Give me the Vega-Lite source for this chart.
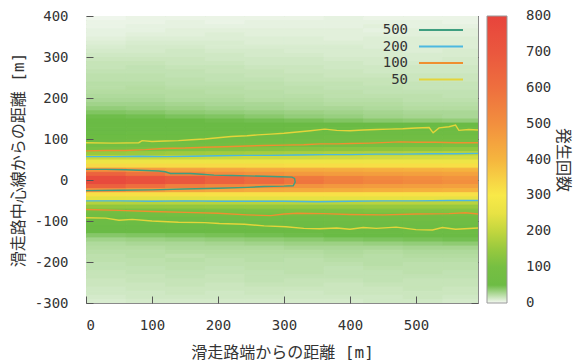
{
"$schema":"https://vega.github.io/schema/vega-lite/v6.json",
"width":392,"height":287,
"autosize":"none",
"padding":{"left":86,"top":16,"right":97,"bottom":57},
"background":"white",
"datasets":{
"grid":[
{"x":30,"y":395,"v":1},{"x":90,"y":395,"v":2},{"x":150,"y":395,"v":2},{"x":210,"y":395,"v":2},{"x":270,"y":395,"v":2},{"x":330,"y":395,"v":2},{"x":390,"y":395,"v":3},{"x":450,"y":395,"v":2},{"x":510,"y":395,"v":2},{"x":570,"y":395,"v":2},
{"x":30,"y":385,"v":2},{"x":90,"y":385,"v":2},{"x":150,"y":385,"v":3},{"x":210,"y":385,"v":2},{"x":270,"y":385,"v":3},{"x":330,"y":385,"v":3},{"x":390,"y":385,"v":3},{"x":450,"y":385,"v":3},{"x":510,"y":385,"v":3},{"x":570,"y":385,"v":2},
{"x":30,"y":375,"v":2},{"x":90,"y":375,"v":3},{"x":150,"y":375,"v":3},{"x":210,"y":375,"v":3},{"x":270,"y":375,"v":3},{"x":330,"y":375,"v":3},{"x":390,"y":375,"v":3},{"x":450,"y":375,"v":4},{"x":510,"y":375,"v":3},{"x":570,"y":375,"v":3},
{"x":30,"y":365,"v":3},{"x":90,"y":365,"v":3},{"x":150,"y":365,"v":4},{"x":210,"y":365,"v":4},{"x":270,"y":365,"v":4},{"x":330,"y":365,"v":4},{"x":390,"y":365,"v":4},{"x":450,"y":365,"v":3},{"x":510,"y":365,"v":4},{"x":570,"y":365,"v":4},
{"x":30,"y":355,"v":3},{"x":90,"y":355,"v":4},{"x":150,"y":355,"v":4},{"x":210,"y":355,"v":5},{"x":270,"y":355,"v":4},{"x":330,"y":355,"v":4},{"x":390,"y":355,"v":4},{"x":450,"y":355,"v":4},{"x":510,"y":355,"v":4},{"x":570,"y":355,"v":4},
{"x":30,"y":345,"v":4},{"x":90,"y":345,"v":5},{"x":150,"y":345,"v":5},{"x":210,"y":345,"v":5},{"x":270,"y":345,"v":5},{"x":330,"y":345,"v":5},{"x":390,"y":345,"v":4},{"x":450,"y":345,"v":5},{"x":510,"y":345,"v":5},{"x":570,"y":345,"v":5},
{"x":30,"y":335,"v":5},{"x":90,"y":335,"v":6},{"x":150,"y":335,"v":6},{"x":210,"y":335,"v":6},{"x":270,"y":335,"v":5},{"x":330,"y":335,"v":5},{"x":390,"y":335,"v":5},{"x":450,"y":335,"v":5},{"x":510,"y":335,"v":5},{"x":570,"y":335,"v":5},
{"x":30,"y":325,"v":6},{"x":90,"y":325,"v":7},{"x":150,"y":325,"v":7},{"x":210,"y":325,"v":6},{"x":270,"y":325,"v":6},{"x":330,"y":325,"v":6},{"x":390,"y":325,"v":6},{"x":450,"y":325,"v":5},{"x":510,"y":325,"v":5},{"x":570,"y":325,"v":5},
{"x":30,"y":315,"v":7},{"x":90,"y":315,"v":7},{"x":150,"y":315,"v":8},{"x":210,"y":315,"v":7},{"x":270,"y":315,"v":7},{"x":330,"y":315,"v":6},{"x":390,"y":315,"v":6},{"x":450,"y":315,"v":6},{"x":510,"y":315,"v":5},{"x":570,"y":315,"v":6},
{"x":30,"y":305,"v":8},{"x":90,"y":305,"v":8},{"x":150,"y":305,"v":8},{"x":210,"y":305,"v":8},{"x":270,"y":305,"v":7},{"x":330,"y":305,"v":7},{"x":390,"y":305,"v":6},{"x":450,"y":305,"v":6},{"x":510,"y":305,"v":6},{"x":570,"y":305,"v":6},
{"x":30,"y":295,"v":9},{"x":90,"y":295,"v":9},{"x":150,"y":295,"v":9},{"x":210,"y":295,"v":8},{"x":270,"y":295,"v":8},{"x":330,"y":295,"v":8},{"x":390,"y":295,"v":7},{"x":450,"y":295,"v":7},{"x":510,"y":295,"v":6},{"x":570,"y":295,"v":7},
{"x":30,"y":285,"v":10},{"x":90,"y":285,"v":10},{"x":150,"y":285,"v":9},{"x":210,"y":285,"v":9},{"x":270,"y":285,"v":8},{"x":330,"y":285,"v":8},{"x":390,"y":285,"v":8},{"x":450,"y":285,"v":7},{"x":510,"y":285,"v":7},{"x":570,"y":285,"v":7},
{"x":30,"y":275,"v":10},{"x":90,"y":275,"v":11},{"x":150,"y":275,"v":10},{"x":210,"y":275,"v":10},{"x":270,"y":275,"v":9},{"x":330,"y":275,"v":9},{"x":390,"y":275,"v":8},{"x":450,"y":275,"v":8},{"x":510,"y":275,"v":8},{"x":570,"y":275,"v":8},
{"x":30,"y":265,"v":11},{"x":90,"y":265,"v":11},{"x":150,"y":265,"v":11},{"x":210,"y":265,"v":10},{"x":270,"y":265,"v":10},{"x":330,"y":265,"v":9},{"x":390,"y":265,"v":9},{"x":450,"y":265,"v":8},{"x":510,"y":265,"v":8},{"x":570,"y":265,"v":8},
{"x":30,"y":255,"v":12},{"x":90,"y":255,"v":12},{"x":150,"y":255,"v":11},{"x":210,"y":255,"v":11},{"x":270,"y":255,"v":10},{"x":330,"y":255,"v":10},{"x":390,"y":255,"v":9},{"x":450,"y":255,"v":9},{"x":510,"y":255,"v":9},{"x":570,"y":255,"v":9},
{"x":30,"y":245,"v":12},{"x":90,"y":245,"v":12},{"x":150,"y":245,"v":12},{"x":210,"y":245,"v":11},{"x":270,"y":245,"v":11},{"x":330,"y":245,"v":10},{"x":390,"y":245,"v":10},{"x":450,"y":245,"v":10},{"x":510,"y":245,"v":9},{"x":570,"y":245,"v":9},
{"x":30,"y":235,"v":13},{"x":90,"y":235,"v":13},{"x":150,"y":235,"v":12},{"x":210,"y":235,"v":12},{"x":270,"y":235,"v":12},{"x":330,"y":235,"v":11},{"x":390,"y":235,"v":11},{"x":450,"y":235,"v":10},{"x":510,"y":235,"v":10},{"x":570,"y":235,"v":10},
{"x":30,"y":225,"v":13},{"x":90,"y":225,"v":14},{"x":150,"y":225,"v":13},{"x":210,"y":225,"v":13},{"x":270,"y":225,"v":12},{"x":330,"y":225,"v":12},{"x":390,"y":225,"v":11},{"x":450,"y":225,"v":11},{"x":510,"y":225,"v":10},{"x":570,"y":225,"v":10},
{"x":30,"y":215,"v":14},{"x":90,"y":215,"v":14},{"x":150,"y":215,"v":14},{"x":210,"y":215,"v":13},{"x":270,"y":215,"v":13},{"x":330,"y":215,"v":12},{"x":390,"y":215,"v":12},{"x":450,"y":215,"v":11},{"x":510,"y":215,"v":11},{"x":570,"y":215,"v":11},
{"x":30,"y":205,"v":15},{"x":90,"y":205,"v":15},{"x":150,"y":205,"v":14},{"x":210,"y":205,"v":14},{"x":270,"y":205,"v":13},{"x":330,"y":205,"v":13},{"x":390,"y":205,"v":12},{"x":450,"y":205,"v":12},{"x":510,"y":205,"v":12},{"x":570,"y":205,"v":11},
{"x":30,"y":195,"v":16},{"x":90,"y":195,"v":16},{"x":150,"y":195,"v":15},{"x":210,"y":195,"v":15},{"x":270,"y":195,"v":14},{"x":330,"y":195,"v":14},{"x":390,"y":195,"v":13},{"x":450,"y":195,"v":13},{"x":510,"y":195,"v":12},{"x":570,"y":195,"v":12},
{"x":30,"y":185,"v":18},{"x":90,"y":185,"v":18},{"x":150,"y":185,"v":17},{"x":210,"y":185,"v":16},{"x":270,"y":185,"v":16},{"x":330,"y":185,"v":15},{"x":390,"y":185,"v":14},{"x":450,"y":185,"v":14},{"x":510,"y":185,"v":13},{"x":570,"y":185,"v":13},
{"x":30,"y":175,"v":21},{"x":90,"y":175,"v":20},{"x":150,"y":175,"v":19},{"x":210,"y":175,"v":18},{"x":270,"y":175,"v":17},{"x":330,"y":175,"v":16},{"x":390,"y":175,"v":16},{"x":450,"y":175,"v":15},{"x":510,"y":175,"v":14},{"x":570,"y":175,"v":14},
{"x":30,"y":165,"v":25},{"x":90,"y":165,"v":24},{"x":150,"y":165,"v":22},{"x":210,"y":165,"v":21},{"x":270,"y":165,"v":20},{"x":330,"y":165,"v":19},{"x":390,"y":165,"v":18},{"x":450,"y":165,"v":17},{"x":510,"y":165,"v":16},{"x":570,"y":165,"v":16},
{"x":30,"y":155,"v":29},{"x":90,"y":155,"v":28},{"x":150,"y":155,"v":26},{"x":210,"y":155,"v":25},{"x":270,"y":155,"v":23},{"x":330,"y":155,"v":21},{"x":390,"y":155,"v":20},{"x":450,"y":155,"v":18},{"x":510,"y":155,"v":17},{"x":570,"y":155,"v":16},
{"x":30,"y":145,"v":31},{"x":90,"y":145,"v":31},{"x":150,"y":145,"v":30},{"x":210,"y":145,"v":29},{"x":270,"y":145,"v":28},{"x":330,"y":145,"v":27},{"x":390,"y":145,"v":25},{"x":450,"y":145,"v":23},{"x":510,"y":145,"v":22},{"x":570,"y":145,"v":21},
{"x":30,"y":135,"v":32},{"x":90,"y":135,"v":32},{"x":150,"y":135,"v":32},{"x":210,"y":135,"v":32},{"x":270,"y":135,"v":32},{"x":330,"y":135,"v":32},{"x":390,"y":135,"v":32},{"x":450,"y":135,"v":31},{"x":510,"y":135,"v":31},{"x":570,"y":135,"v":31},
{"x":30,"y":125,"v":32},{"x":90,"y":125,"v":33},{"x":150,"y":125,"v":35},{"x":210,"y":125,"v":36},{"x":270,"y":125,"v":38},{"x":330,"y":125,"v":39},{"x":390,"y":125,"v":41},{"x":450,"y":125,"v":42},{"x":510,"y":125,"v":44},{"x":570,"y":125,"v":45},
{"x":30,"y":115,"v":37},{"x":90,"y":115,"v":39},{"x":150,"y":115,"v":41},{"x":210,"y":115,"v":43},{"x":270,"y":115,"v":45},{"x":330,"y":115,"v":47},{"x":390,"y":115,"v":49},{"x":450,"y":115,"v":51},{"x":510,"y":115,"v":53},{"x":570,"y":115,"v":55},
{"x":30,"y":105,"v":44},{"x":90,"y":105,"v":46},{"x":150,"y":105,"v":49},{"x":210,"y":105,"v":51},{"x":270,"y":105,"v":53},{"x":330,"y":105,"v":56},{"x":390,"y":105,"v":58},{"x":450,"y":105,"v":60},{"x":510,"y":105,"v":63},{"x":570,"y":105,"v":65},
{"x":30,"y":95,"v":55},{"x":90,"y":95,"v":58},{"x":150,"y":95,"v":61},{"x":210,"y":95,"v":63},{"x":270,"y":95,"v":66},{"x":330,"y":95,"v":69},{"x":390,"y":95,"v":72},{"x":450,"y":95,"v":75},{"x":510,"y":95,"v":77},{"x":570,"y":95,"v":80},
{"x":30,"y":85,"v":75},{"x":90,"y":85,"v":78},{"x":150,"y":85,"v":82},{"x":210,"y":85,"v":85},{"x":270,"y":85,"v":88},{"x":330,"y":85,"v":92},{"x":390,"y":85,"v":95},{"x":450,"y":85,"v":98},{"x":510,"y":85,"v":102},{"x":570,"y":85,"v":105},
{"x":30,"y":75,"v":105},{"x":90,"y":75,"v":109},{"x":150,"y":75,"v":113},{"x":210,"y":75,"v":117},{"x":270,"y":75,"v":120},{"x":330,"y":75,"v":125},{"x":390,"y":75,"v":128},{"x":450,"y":75,"v":132},{"x":510,"y":75,"v":136},{"x":570,"y":75,"v":140},
{"x":30,"y":65,"v":150},{"x":90,"y":65,"v":154},{"x":150,"y":65,"v":159},{"x":210,"y":65,"v":163},{"x":270,"y":65,"v":168},{"x":330,"y":65,"v":172},{"x":390,"y":65,"v":177},{"x":450,"y":65,"v":181},{"x":510,"y":65,"v":186},{"x":570,"y":65,"v":190},
{"x":30,"y":55,"v":205},{"x":90,"y":55,"v":207},{"x":150,"y":55,"v":209},{"x":210,"y":55,"v":212},{"x":270,"y":55,"v":214},{"x":330,"y":55,"v":216},{"x":390,"y":55,"v":218},{"x":450,"y":55,"v":221},{"x":510,"y":55,"v":223},{"x":570,"y":55,"v":225},
{"x":30,"y":45,"v":265},{"x":90,"y":45,"v":266},{"x":150,"y":45,"v":266},{"x":210,"y":45,"v":267},{"x":270,"y":45,"v":267},{"x":330,"y":45,"v":268},{"x":390,"y":45,"v":268},{"x":450,"y":45,"v":269},{"x":510,"y":45,"v":269},{"x":570,"y":45,"v":270},
{"x":30,"y":35,"v":330},{"x":90,"y":35,"v":329},{"x":150,"y":35,"v":328},{"x":210,"y":35,"v":327},{"x":270,"y":35,"v":326},{"x":330,"y":35,"v":324},{"x":390,"y":35,"v":323},{"x":450,"y":35,"v":322},{"x":510,"y":35,"v":321},{"x":570,"y":35,"v":320},
{"x":30,"y":25,"v":500},{"x":90,"y":25,"v":475},{"x":150,"y":25,"v":455},{"x":210,"y":25,"v":440},{"x":270,"y":25,"v":430},{"x":330,"y":25,"v":425},{"x":390,"y":25,"v":420},{"x":450,"y":25,"v":415},{"x":510,"y":25,"v":410},{"x":570,"y":25,"v":405},
{"x":30,"y":15,"v":650},{"x":90,"y":15,"v":590},{"x":150,"y":15,"v":540},{"x":210,"y":15,"v":510},{"x":270,"y":15,"v":490},{"x":330,"y":15,"v":475},{"x":390,"y":15,"v":465},{"x":450,"y":15,"v":460},{"x":510,"y":15,"v":455},{"x":570,"y":15,"v":450},
{"x":30,"y":5,"v":760},{"x":90,"y":5,"v":725},{"x":150,"y":5,"v":690},{"x":210,"y":5,"v":650},{"x":270,"y":5,"v":610},{"x":330,"y":5,"v":570},{"x":390,"y":5,"v":540},{"x":450,"y":5,"v":520},{"x":510,"y":5,"v":505},{"x":570,"y":5,"v":490},
{"x":30,"y":-5,"v":770},{"x":90,"y":-5,"v":735},{"x":150,"y":-5,"v":700},{"x":210,"y":-5,"v":660},{"x":270,"y":-5,"v":620},{"x":330,"y":-5,"v":580},{"x":390,"y":-5,"v":550},{"x":450,"y":-5,"v":530},{"x":510,"y":-5,"v":515},{"x":570,"y":-5,"v":500},
{"x":30,"y":-15,"v":660},{"x":90,"y":-15,"v":600},{"x":150,"y":-15,"v":550},{"x":210,"y":-15,"v":525},{"x":270,"y":-15,"v":510},{"x":330,"y":-15,"v":490},{"x":390,"y":-15,"v":475},{"x":450,"y":-15,"v":465},{"x":510,"y":-15,"v":460},{"x":570,"y":-15,"v":455},
{"x":30,"y":-25,"v":495},{"x":90,"y":-25,"v":470},{"x":150,"y":-25,"v":450},{"x":210,"y":-25,"v":440},{"x":270,"y":-25,"v":430},{"x":330,"y":-25,"v":425},{"x":390,"y":-25,"v":420},{"x":450,"y":-25,"v":415},{"x":510,"y":-25,"v":410},{"x":570,"y":-25,"v":405},
{"x":30,"y":-35,"v":320},{"x":90,"y":-35,"v":319},{"x":150,"y":-35,"v":319},{"x":210,"y":-35,"v":318},{"x":270,"y":-35,"v":318},{"x":330,"y":-35,"v":317},{"x":390,"y":-35,"v":317},{"x":450,"y":-35,"v":316},{"x":510,"y":-35,"v":316},{"x":570,"y":-35,"v":315},
{"x":30,"y":-45,"v":245},{"x":90,"y":-45,"v":246},{"x":150,"y":-45,"v":246},{"x":210,"y":-45,"v":247},{"x":270,"y":-45,"v":247},{"x":330,"y":-45,"v":248},{"x":390,"y":-45,"v":248},{"x":450,"y":-45,"v":249},{"x":510,"y":-45,"v":249},{"x":570,"y":-45,"v":250},
{"x":30,"y":-55,"v":185},{"x":90,"y":-55,"v":186},{"x":150,"y":-55,"v":187},{"x":210,"y":-55,"v":188},{"x":270,"y":-55,"v":188},{"x":330,"y":-55,"v":189},{"x":390,"y":-55,"v":189},{"x":450,"y":-55,"v":190},{"x":510,"y":-55,"v":190},{"x":570,"y":-55,"v":190},
{"x":30,"y":-65,"v":140},{"x":90,"y":-65,"v":141},{"x":150,"y":-65,"v":142},{"x":210,"y":-65,"v":143},{"x":270,"y":-65,"v":144},{"x":330,"y":-65,"v":146},{"x":390,"y":-65,"v":147},{"x":450,"y":-65,"v":148},{"x":510,"y":-65,"v":149},{"x":570,"y":-65,"v":150},
{"x":30,"y":-75,"v":98},{"x":90,"y":-75,"v":100},{"x":150,"y":-75,"v":102},{"x":210,"y":-75,"v":105},{"x":270,"y":-75,"v":107},{"x":330,"y":-75,"v":109},{"x":390,"y":-75,"v":111},{"x":450,"y":-75,"v":114},{"x":510,"y":-75,"v":116},{"x":570,"y":-75,"v":118},
{"x":30,"y":-85,"v":70},{"x":90,"y":-85,"v":72},{"x":150,"y":-85,"v":75},{"x":210,"y":-85,"v":77},{"x":270,"y":-85,"v":80},{"x":330,"y":-85,"v":82},{"x":390,"y":-85,"v":85},{"x":450,"y":-85,"v":87},{"x":510,"y":-85,"v":90},{"x":570,"y":-85,"v":92},
{"x":30,"y":-95,"v":50},{"x":90,"y":-95,"v":52},{"x":150,"y":-95,"v":54},{"x":210,"y":-95,"v":57},{"x":270,"y":-95,"v":59},{"x":330,"y":-95,"v":61},{"x":390,"y":-95,"v":63},{"x":450,"y":-95,"v":66},{"x":510,"y":-95,"v":68},{"x":570,"y":-95,"v":70},
{"x":30,"y":-105,"v":40},{"x":90,"y":-105,"v":42},{"x":150,"y":-105,"v":44},{"x":210,"y":-105,"v":46},{"x":270,"y":-105,"v":48},{"x":330,"y":-105,"v":50},{"x":390,"y":-105,"v":52},{"x":450,"y":-105,"v":54},{"x":510,"y":-105,"v":56},{"x":570,"y":-105,"v":58},
{"x":30,"y":-115,"v":36},{"x":90,"y":-115,"v":38},{"x":150,"y":-115,"v":40},{"x":210,"y":-115,"v":42},{"x":270,"y":-115,"v":43},{"x":330,"y":-115,"v":45},{"x":390,"y":-115,"v":46},{"x":450,"y":-115,"v":48},{"x":510,"y":-115,"v":49},{"x":570,"y":-115,"v":50},
{"x":30,"y":-125,"v":30},{"x":90,"y":-125,"v":31},{"x":150,"y":-125,"v":32},{"x":210,"y":-125,"v":33},{"x":270,"y":-125,"v":34},{"x":330,"y":-125,"v":35},{"x":390,"y":-125,"v":36},{"x":450,"y":-125,"v":37},{"x":510,"y":-125,"v":39},{"x":570,"y":-125,"v":40},
{"x":30,"y":-135,"v":24},{"x":90,"y":-135,"v":25},{"x":150,"y":-135,"v":26},{"x":210,"y":-135,"v":27},{"x":270,"y":-135,"v":28},{"x":330,"y":-135,"v":29},{"x":390,"y":-135,"v":30},{"x":450,"y":-135,"v":31},{"x":510,"y":-135,"v":33},{"x":570,"y":-135,"v":34},
{"x":30,"y":-145,"v":18},{"x":90,"y":-145,"v":19},{"x":150,"y":-145,"v":20},{"x":210,"y":-145,"v":21},{"x":270,"y":-145,"v":22},{"x":330,"y":-145,"v":23},{"x":390,"y":-145,"v":25},{"x":450,"y":-145,"v":26},{"x":510,"y":-145,"v":27},{"x":570,"y":-145,"v":28},
{"x":30,"y":-155,"v":15},{"x":90,"y":-155,"v":16},{"x":150,"y":-155,"v":16},{"x":210,"y":-155,"v":17},{"x":270,"y":-155,"v":18},{"x":330,"y":-155,"v":19},{"x":390,"y":-155,"v":19},{"x":450,"y":-155,"v":20},{"x":510,"y":-155,"v":21},{"x":570,"y":-155,"v":22},
{"x":30,"y":-165,"v":14},{"x":90,"y":-165,"v":14},{"x":150,"y":-165,"v":15},{"x":210,"y":-165,"v":15},{"x":270,"y":-165,"v":15},{"x":330,"y":-165,"v":16},{"x":390,"y":-165,"v":16},{"x":450,"y":-165,"v":16},{"x":510,"y":-165,"v":17},{"x":570,"y":-165,"v":17},
{"x":30,"y":-175,"v":13},{"x":90,"y":-175,"v":13},{"x":150,"y":-175,"v":14},{"x":210,"y":-175,"v":14},{"x":270,"y":-175,"v":14},{"x":330,"y":-175,"v":14},{"x":390,"y":-175,"v":15},{"x":450,"y":-175,"v":14},{"x":510,"y":-175,"v":15},{"x":570,"y":-175,"v":15},
{"x":30,"y":-185,"v":12},{"x":90,"y":-185,"v":13},{"x":150,"y":-185,"v":12},{"x":210,"y":-185,"v":13},{"x":270,"y":-185,"v":13},{"x":330,"y":-185,"v":13},{"x":390,"y":-185,"v":14},{"x":450,"y":-185,"v":13},{"x":510,"y":-185,"v":14},{"x":570,"y":-185,"v":14},
{"x":30,"y":-195,"v":12},{"x":90,"y":-195,"v":12},{"x":150,"y":-195,"v":13},{"x":210,"y":-195,"v":12},{"x":270,"y":-195,"v":13},{"x":330,"y":-195,"v":12},{"x":390,"y":-195,"v":13},{"x":450,"y":-195,"v":13},{"x":510,"y":-195,"v":13},{"x":570,"y":-195,"v":13},
{"x":30,"y":-205,"v":11},{"x":90,"y":-205,"v":12},{"x":150,"y":-205,"v":12},{"x":210,"y":-205,"v":12},{"x":270,"y":-205,"v":12},{"x":330,"y":-205,"v":12},{"x":390,"y":-205,"v":12},{"x":450,"y":-205,"v":13},{"x":510,"y":-205,"v":12},{"x":570,"y":-205,"v":12},
{"x":30,"y":-215,"v":11},{"x":90,"y":-215,"v":11},{"x":150,"y":-215,"v":12},{"x":210,"y":-215,"v":11},{"x":270,"y":-215,"v":12},{"x":330,"y":-215,"v":12},{"x":390,"y":-215,"v":11},{"x":450,"y":-215,"v":12},{"x":510,"y":-215,"v":12},{"x":570,"y":-215,"v":12},
{"x":30,"y":-225,"v":10},{"x":90,"y":-225,"v":11},{"x":150,"y":-225,"v":11},{"x":210,"y":-225,"v":11},{"x":270,"y":-225,"v":11},{"x":330,"y":-225,"v":12},{"x":390,"y":-225,"v":11},{"x":450,"y":-225,"v":11},{"x":510,"y":-225,"v":12},{"x":570,"y":-225,"v":11},
{"x":30,"y":-235,"v":10},{"x":90,"y":-235,"v":10},{"x":150,"y":-235,"v":11},{"x":210,"y":-235,"v":10},{"x":270,"y":-235,"v":11},{"x":330,"y":-235,"v":11},{"x":390,"y":-235,"v":11},{"x":450,"y":-235,"v":11},{"x":510,"y":-235,"v":11},{"x":570,"y":-235,"v":11},
{"x":30,"y":-245,"v":9},{"x":90,"y":-245,"v":10},{"x":150,"y":-245,"v":10},{"x":210,"y":-245,"v":10},{"x":270,"y":-245,"v":11},{"x":330,"y":-245,"v":10},{"x":390,"y":-245,"v":10},{"x":450,"y":-245,"v":11},{"x":510,"y":-245,"v":10},{"x":570,"y":-245,"v":10},
{"x":30,"y":-255,"v":9},{"x":90,"y":-255,"v":9},{"x":150,"y":-255,"v":10},{"x":210,"y":-255,"v":9},{"x":270,"y":-255,"v":10},{"x":330,"y":-255,"v":10},{"x":390,"y":-255,"v":9},{"x":450,"y":-255,"v":10},{"x":510,"y":-255,"v":10},{"x":570,"y":-255,"v":10},
{"x":30,"y":-265,"v":8},{"x":90,"y":-265,"v":9},{"x":150,"y":-265,"v":9},{"x":210,"y":-265,"v":9},{"x":270,"y":-265,"v":9},{"x":330,"y":-265,"v":9},{"x":390,"y":-265,"v":9},{"x":450,"y":-265,"v":9},{"x":510,"y":-265,"v":10},{"x":570,"y":-265,"v":9},
{"x":30,"y":-275,"v":8},{"x":90,"y":-275,"v":8},{"x":150,"y":-275,"v":9},{"x":210,"y":-275,"v":8},{"x":270,"y":-275,"v":9},{"x":330,"y":-275,"v":8},{"x":390,"y":-275,"v":9},{"x":450,"y":-275,"v":9},{"x":510,"y":-275,"v":9},{"x":570,"y":-275,"v":9},
{"x":30,"y":-285,"v":7},{"x":90,"y":-285,"v":8},{"x":150,"y":-285,"v":8},{"x":210,"y":-285,"v":8},{"x":270,"y":-285,"v":8},{"x":330,"y":-285,"v":8},{"x":390,"y":-285,"v":8},{"x":450,"y":-285,"v":8},{"x":510,"y":-285,"v":9},{"x":570,"y":-285,"v":8},
{"x":30,"y":-295,"v":6},{"x":90,"y":-295,"v":7},{"x":150,"y":-295,"v":7},{"x":210,"y":-295,"v":7},{"x":270,"y":-295,"v":7},{"x":330,"y":-295,"v":7},{"x":390,"y":-295,"v":7},{"x":450,"y":-295,"v":8},{"x":510,"y":-295,"v":8},{"x":570,"y":-295,"v":7}
],
"contours":[
{"c":"500","p":"a","i":0,"x":0,"y":26},{"c":"500","p":"a","i":1,"x":30,"y":26},{"c":"500","p":"a","i":2,"x":60,"y":25},{"c":"500","p":"a","i":3,"x":90,"y":23},{"c":"500","p":"a","i":4,"x":110,"y":22},{"c":"500","p":"a","i":5,"x":120,"y":20},{"c":"500","p":"a","i":6,"x":128,"y":16},{"c":"500","p":"a","i":7,"x":158,"y":16},{"c":"500","p":"a","i":8,"x":175,"y":14},{"c":"500","p":"a","i":9,"x":194,"y":12},{"c":"500","p":"a","i":10,"x":220,"y":11},{"c":"500","p":"a","i":11,"x":245,"y":10},{"c":"500","p":"a","i":12,"x":270,"y":9},{"c":"500","p":"a","i":13,"x":295,"y":8},{"c":"500","p":"a","i":14,"x":312,"y":7},{"c":"500","p":"a","i":15,"x":316,"y":4},{"c":"500","p":"a","i":16,"x":317,"y":-5},{"c":"500","p":"a","i":17,"x":314,"y":-14},{"c":"500","p":"a","i":18,"x":300,"y":-15},{"c":"500","p":"a","i":19,"x":270,"y":-16},{"c":"500","p":"a","i":20,"x":245,"y":-18},{"c":"500","p":"a","i":21,"x":200,"y":-20},{"c":"500","p":"a","i":22,"x":149,"y":-22},{"c":"500","p":"a","i":23,"x":100,"y":-24},{"c":"500","p":"a","i":24,"x":50,"y":-25},{"c":"500","p":"a","i":25,"x":0,"y":-26},
{"c":"200","p":"u","i":0,"x":0,"y":57},{"c":"200","p":"u","i":1,"x":40,"y":57},{"c":"200","p":"u","i":2,"x":80,"y":58},{"c":"200","p":"u","i":3,"x":120,"y":57},{"c":"200","p":"u","i":4,"x":160,"y":58},{"c":"200","p":"u","i":5,"x":200,"y":59},{"c":"200","p":"u","i":6,"x":240,"y":60},{"c":"200","p":"u","i":7,"x":280,"y":60},{"c":"200","p":"u","i":8,"x":320,"y":61},{"c":"200","p":"u","i":9,"x":360,"y":62},{"c":"200","p":"u","i":10,"x":400,"y":62},{"c":"200","p":"u","i":11,"x":440,"y":63},{"c":"200","p":"u","i":12,"x":480,"y":63},{"c":"200","p":"u","i":13,"x":520,"y":64},{"c":"200","p":"u","i":14,"x":560,"y":64},{"c":"200","p":"u","i":15,"x":594,"y":65},
{"c":"200","p":"l","i":0,"x":0,"y":-51},{"c":"200","p":"l","i":1,"x":50,"y":-51},{"c":"200","p":"l","i":2,"x":100,"y":-52},{"c":"200","p":"l","i":3,"x":150,"y":-51},{"c":"200","p":"l","i":4,"x":200,"y":-52},{"c":"200","p":"l","i":5,"x":250,"y":-52},{"c":"200","p":"l","i":6,"x":300,"y":-52},{"c":"200","p":"l","i":7,"x":350,"y":-53},{"c":"200","p":"l","i":8,"x":400,"y":-52},{"c":"200","p":"l","i":9,"x":450,"y":-51},{"c":"200","p":"l","i":10,"x":500,"y":-51},{"c":"200","p":"l","i":11,"x":550,"y":-50},{"c":"200","p":"l","i":12,"x":594,"y":-50},
{"c":"100","p":"u","i":0,"x":0,"y":71},{"c":"100","p":"u","i":1,"x":30,"y":72},{"c":"100","p":"u","i":2,"x":60,"y":72},{"c":"100","p":"u","i":3,"x":90,"y":74},{"c":"100","p":"u","i":4,"x":117,"y":77},{"c":"100","p":"u","i":5,"x":150,"y":78},{"c":"100","p":"u","i":6,"x":180,"y":80},{"c":"100","p":"u","i":7,"x":210,"y":81},{"c":"100","p":"u","i":8,"x":244,"y":83},{"c":"100","p":"u","i":9,"x":270,"y":84},{"c":"100","p":"u","i":10,"x":300,"y":85},{"c":"100","p":"u","i":11,"x":330,"y":86},{"c":"100","p":"u","i":12,"x":355,"y":88},{"c":"100","p":"u","i":13,"x":380,"y":88},{"c":"100","p":"u","i":14,"x":400,"y":89},{"c":"100","p":"u","i":15,"x":430,"y":90},{"c":"100","p":"u","i":16,"x":476,"y":93},{"c":"100","p":"u","i":17,"x":500,"y":92},{"c":"100","p":"u","i":18,"x":530,"y":92},{"c":"100","p":"u","i":19,"x":560,"y":91},{"c":"100","p":"u","i":20,"x":594,"y":91},
{"c":"100","p":"l","i":0,"x":0,"y":-72},{"c":"100","p":"l","i":1,"x":50,"y":-74},{"c":"100","p":"l","i":2,"x":100,"y":-77},{"c":"100","p":"l","i":3,"x":150,"y":-79},{"c":"100","p":"l","i":4,"x":200,"y":-81},{"c":"100","p":"l","i":5,"x":244,"y":-85},{"c":"100","p":"l","i":6,"x":280,"y":-87},{"c":"100","p":"l","i":7,"x":300,"y":-83},{"c":"100","p":"l","i":8,"x":320,"y":-81},{"c":"100","p":"l","i":9,"x":360,"y":-82},{"c":"100","p":"l","i":10,"x":400,"y":-84},{"c":"100","p":"l","i":11,"x":450,"y":-85},{"c":"100","p":"l","i":12,"x":500,"y":-83},{"c":"100","p":"l","i":13,"x":550,"y":-82},{"c":"100","p":"l","i":14,"x":575,"y":-80},{"c":"100","p":"l","i":15,"x":594,"y":-83},
{"c":"50","p":"u","i":0,"x":0,"y":91},{"c":"50","p":"u","i":1,"x":40,"y":90},{"c":"50","p":"u","i":2,"x":80,"y":91},{"c":"50","p":"u","i":3,"x":85,"y":96},{"c":"50","p":"u","i":4,"x":100,"y":94},{"c":"50","p":"u","i":5,"x":120,"y":95},{"c":"50","p":"u","i":6,"x":140,"y":96},{"c":"50","p":"u","i":7,"x":160,"y":98},{"c":"50","p":"u","i":8,"x":180,"y":100},{"c":"50","p":"u","i":9,"x":200,"y":103},{"c":"50","p":"u","i":10,"x":220,"y":106},{"c":"50","p":"u","i":11,"x":244,"y":108},{"c":"50","p":"u","i":12,"x":260,"y":110},{"c":"50","p":"u","i":13,"x":280,"y":112},{"c":"50","p":"u","i":14,"x":300,"y":114},{"c":"50","p":"u","i":15,"x":320,"y":117},{"c":"50","p":"u","i":16,"x":340,"y":120},{"c":"50","p":"u","i":17,"x":362,"y":124},{"c":"50","p":"u","i":18,"x":380,"y":121},{"c":"50","p":"u","i":19,"x":400,"y":120},{"c":"50","p":"u","i":20,"x":420,"y":122},{"c":"50","p":"u","i":21,"x":440,"y":123},{"c":"50","p":"u","i":22,"x":460,"y":124},{"c":"50","p":"u","i":23,"x":480,"y":125},{"c":"50","p":"u","i":24,"x":500,"y":127},{"c":"50","p":"u","i":25,"x":520,"y":128},{"c":"50","p":"u","i":26,"x":526,"y":115},{"c":"50","p":"u","i":27,"x":535,"y":127},{"c":"50","p":"u","i":28,"x":550,"y":130},{"c":"50","p":"u","i":29,"x":560,"y":134},{"c":"50","p":"u","i":30,"x":565,"y":121},{"c":"50","p":"u","i":31,"x":580,"y":123},{"c":"50","p":"u","i":32,"x":594,"y":122},
{"c":"50","p":"l","i":0,"x":0,"y":-92},{"c":"50","p":"l","i":1,"x":30,"y":-93},{"c":"50","p":"l","i":2,"x":50,"y":-98},{"c":"50","p":"l","i":3,"x":70,"y":-96},{"c":"50","p":"l","i":4,"x":100,"y":-100},{"c":"50","p":"l","i":5,"x":140,"y":-103},{"c":"50","p":"l","i":6,"x":180,"y":-104},{"c":"50","p":"l","i":7,"x":202,"y":-106},{"c":"50","p":"l","i":8,"x":240,"y":-108},{"c":"50","p":"l","i":9,"x":270,"y":-112},{"c":"50","p":"l","i":10,"x":303,"y":-114},{"c":"50","p":"l","i":11,"x":330,"y":-118},{"c":"50","p":"l","i":12,"x":354,"y":-119},{"c":"50","p":"l","i":13,"x":380,"y":-117},{"c":"50","p":"l","i":14,"x":400,"y":-120},{"c":"50","p":"l","i":15,"x":420,"y":-116},{"c":"50","p":"l","i":16,"x":440,"y":-118},{"c":"50","p":"l","i":17,"x":470,"y":-115},{"c":"50","p":"l","i":18,"x":500,"y":-121},{"c":"50","p":"l","i":19,"x":525,"y":-122},{"c":"50","p":"l","i":20,"x":540,"y":-116},{"c":"50","p":"l","i":21,"x":560,"y":-120},{"c":"50","p":"l","i":22,"x":594,"y":-117}
]},
"layer":[
{"data":{"name":"grid"},
 "mark":{"type":"rect","clip":true,"strokeWidth":1},
 "encoding":{
  "x":{"field":"x","type":"quantitative","bin":{"step":60,"extent":[0,600]},
       "scale":{"domain":[0,594],"nice":false,"zero":false},
       "axis":{"orient":"bottom","values":[0,100,200,300,400,500],"title":"滑走路端からの距離 [m]","tickSize":-7,"labelPadding":22,"domain":false,"grid":false,"titleY":49,"titleBaseline":"middle","labelExpr":"''+datum.value"}},
  "y":{"field":"y","type":"quantitative","bin":{"step":10,"extent":[-300,400]},
       "scale":{"domain":[-300,400],"nice":false,"zero":false},
       "axis":{"orient":"left","values":[-300,-200,-100,0,100,200,300,400],"title":"滑走路中心線からの距離 [m]","tickSize":-7,"labelPadding":25,"domain":false,"grid":false,"titleX":-68,"titleBaseline":"middle","titleAngle":270,"labelExpr":"''+datum.value"}},
  "color":{"field":"v","type":"quantitative",
       "scale":{"domain":[0,30,100,150,200,250,300,350,400,500,600,700,800],"range":["#f4f8f2","#6abb45","#76bf42","#98c93e","#c2d63e","#e8e244","#f8e948","#f7cf44","#f5b53e","#f28f3e","#ee6f3e","#ea573e","#e7443c"],"interpolate":"rgb"},
       "legend":{"orient":"none","legendX":401,"legendY":0,"direction":"vertical","gradientLength":287,"gradientThickness":20,"values":[0,100,200,300,400,500,600,700,800],"labelOffset":19,"labelBaseline":"middle","labelOverlap":false,"title":"発生回数","titleOrient":"right","titleAnchor":"middle","titleAngle":270,"titlePadding":4,"padding":0,"gradientStrokeColor":"#999","gradientStrokeWidth":1,
          "encode":{"labels":{"update":{"baseline":{"value":"middle"}}}}}},
  "stroke":{"field":"v","type":"quantitative",
       "scale":{"domain":[0,30,100,150,200,250,300,350,400,500,600,700,800],"range":["#f4f8f2","#6abb45","#76bf42","#98c93e","#c2d63e","#e8e244","#f8e948","#f7cf44","#f5b53e","#f28f3e","#ee6f3e","#ea573e","#e7443c"],"interpolate":"rgb"},
       "legend":null}
 }},
{"data":{"name":"contours"},
 "mark":{"type":"line","strokeWidth":1.4,"clip":true},
 "encoding":{
  "x":{"field":"x","type":"quantitative","axis":{"orient":"top","values":[0,100,200,300,400,500],"labels":false,"title":null,"tickSize":-7,"domain":false,"grid":false}},
  "y":{"field":"y","type":"quantitative","axis":{"orient":"right","values":[-300,-200,-100,0,100,200,300,400],"labels":false,"title":null,"tickSize":-7,"domain":false,"grid":false}},
  "stroke":{"field":"c","type":"nominal","scale":{"domain":["500","200","100","50"],"range":["#3e9e80","#4cb8e0","#ef8f2f","#e4d43a"]},
       "legend":{"orient":"none","legendX":348,"legendY":7,"title":null,"symbolType":"M-4,0H4","symbolSize":121,"symbolStrokeWidth":2,"labelAlign":"right","labelOffset":-40,"rowPadding":2.5,"padding":0,"labelFontSize":14}},
  "detail":{"field":"p"},
  "order":{"field":"i","type":"quantitative"}
 }}
],
"resolve":{"axis":{"x":"independent","y":"independent"},"scale":{"stroke":"independent"}},
"config":{
 "font":"DejaVu Sans Mono, Noto Sans CJK JP",
 "view":{"stroke":"#8a8a8a","strokeWidth":1},
 "axis":{"labelFontSize":14,"labelColor":"#333","titleFontSize":16,"titleFontWeight":"normal","titleColor":"#333","tickColor":"#555","tickWidth":1},
 "legend":{"labelFontSize":14,"labelColor":"#333","titleFontSize":16,"titleFontWeight":"normal","titleColor":"#333"}
}
}
